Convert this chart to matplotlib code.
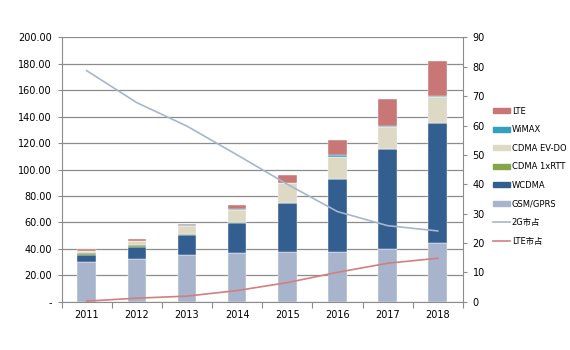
import numpy as np
import matplotlib.pyplot as plt
from matplotlib.patches import Patch
from matplotlib.lines import Line2D

plt.rcParams['font.family'] = ['DejaVu Sans', 'Noto Sans CJK SC']

years = ['2011', '2012', '2013', '2014', '2015', '2016', '2017', '2018']
gsm = [30.3, 32.1, 35.6, 36.6, 37.9, 37.9, 40.1, 44.2]
wcdma = [4.8, 9.5, 14.7, 23.0, 36.6, 54.7, 75.3, 90.9]
cdma1x = [1.5, 1.6, 1.0, 0.7, 0.4, 0.3, 0.3, 0.3]
evdo = [1.5, 2.8, 6.2, 9.4, 14.7, 16.9, 16.8, 19.3]
wimax = [0.1, 0.2, 0.2, 0.5, 0.5, 1.0, 0.8, 1.0]
lte = [1.4, 1.3, 1.1, 3.0, 5.8, 11.4, 19.9, 26.7]
share_2g = [78.7, 67.8, 59.8, 50.0, 40.0, 30.7, 25.9, 24.1]
share_lte = [0.2, 1.2, 1.9, 3.8, 6.5, 10.0, 13.1, 14.8]

series = [
    ('GSM/GPRS', gsm, '#A7B4CC'),
    ('WCDMA', wcdma, '#335E90'),
    ('CDMA 1xRTT', cdma1x, '#86A44A'),
    ('CDMA EV-DO', evdo, '#DDD9C4'),
    ('WiMAX', wimax, '#34A0BE'),
    ('LTE', lte, '#C87676'),
]
c2g = '#A6B6CF'
clte = '#D27F7F'
gridc = '#8C8C8C'

fig = plt.figure(figsize=(5.7, 3.5), dpi=100)
ax = fig.add_axes([0.108, 0.138, 0.704, 0.755])
x = np.arange(len(years)) + 0.5
bottom = np.zeros(len(years))
for name, vals, col in series:
    ax.bar(x, vals, 0.37, bottom=bottom, color=col, edgecolor='white', linewidth=0.3, zorder=2)
    bottom += np.array(vals)

ax.set_xlim(0, 8)
ax.set_ylim(0, 200)
ax.set_yticks(np.arange(0, 201, 20))
ax.set_yticklabels(['-'] + ['%.2f' % v for v in np.arange(20, 201, 20)])
ax.yaxis.grid(True, color=gridc, linewidth=0.9, zorder=0)
ax.set_axisbelow(True)
ax.set_xticks(np.arange(0, 9))
ax.set_xticklabels([])
ax.set_xticks(x, minor=True)
ax.set_xticklabels(years, minor=True)
ax.tick_params(axis='x', which='major', length=4, color=gridc)
ax.tick_params(axis='x', which='minor', length=0, labelsize=7, pad=6)
ax.tick_params(axis='y', length=3, color=gridc, labelsize=7, pad=4)
for s in ['top', 'right']:
    ax.spines[s].set_visible(False)
for s in ['left', 'bottom']:
    ax.spines[s].set_color(gridc)

ax2 = ax.twinx()
ax2.plot(x, share_2g, color=c2g, linewidth=1.2)
ax2.plot(x, share_lte, color=clte, linewidth=1.2)
ax2.set_ylim(0, 90)
ax2.set_yticks(np.arange(0, 91, 10))
ax2.tick_params(axis='y', length=3, color=gridc, labelsize=7, pad=4)
for s in ['top', 'left', 'bottom']:
    ax2.spines[s].set_visible(False)
ax2.spines['right'].set_color(gridc)

handles = [Patch(color=col, label=name) for name, vals, col in series[::-1]]
handles += [Line2D([], [], color=c2g, lw=1.2, label='2G市占'),
            Line2D([], [], color=clte, lw=1.2, label='LTE市占')]
fig.legend(handles=handles, loc='center left', bbox_to_anchor=(0.865, 0.497),
           frameon=False, fontsize=6, handlelength=2.0, handleheight=0.55,
           handletextpad=0.25, labelspacing=1.15, borderpad=0, borderaxespad=0)

fig.savefig('out.png', dpi=100)
